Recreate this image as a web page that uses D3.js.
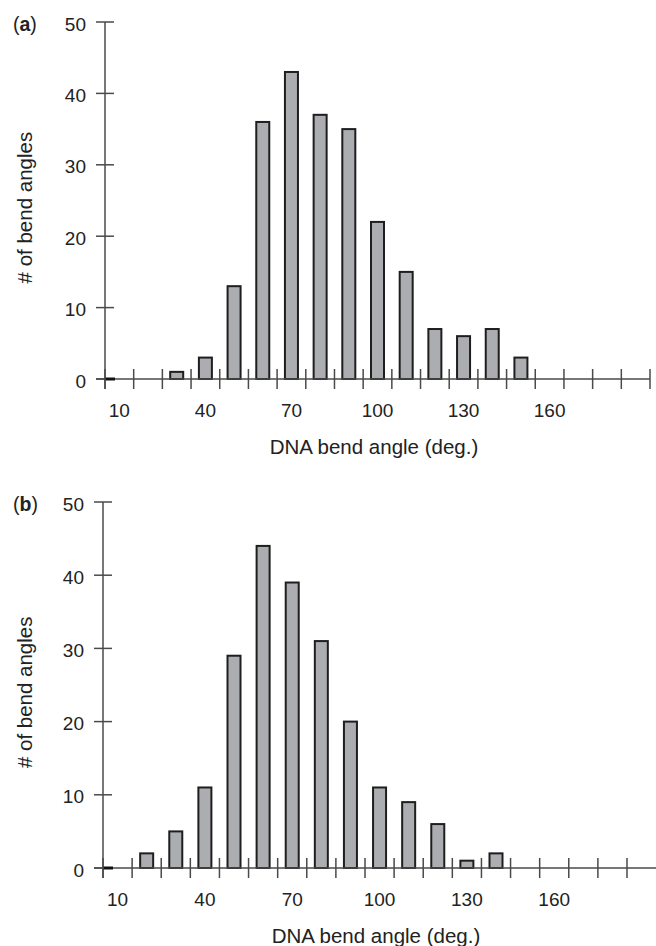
<!DOCTYPE html>
<html>
<head>
<meta charset="utf-8">
<script src="https://cdn.jsdelivr.net/npm/d3@7"></script>
<style>
  body { margin: 0; background: #fff; }
  svg text { font-family: "Liberation Sans", Arial, Helvetica, sans-serif; fill: #222; }
</style>
</head>
<body>
<div id="chart"></div>
<script>
// bin centres (deg.) and counts
var binsA = [30, 40, 50, 60, 70, 80, 90, 100, 110, 120, 130, 140, 150]
var countsA = [1, 3, 13, 36, 43, 37, 35, 22, 15, 7, 6, 7, 3]
var binsB = [20, 30, 40, 50, 60, 70, 80, 90, 100, 110, 120, 130, 140]
var countsB = [2, 5, 11, 29, 44, 39, 31, 20, 11, 9, 6, 1, 2]
var yTickValues = [0, 10, 20, 30, 40, 50]
var xLabelValues = [10, 40, 70, 100, 130, 160]
var panelNames = ["a", "b"]
var xTitle = "DNA bend angle (deg.)"
var yTitle = "# of bend angles"

var width = 656, height = 946;
var axisColor = "#4a4a4a";

var svg = d3.select("#chart").append("svg")
    .attr("width", width)
    .attr("height", height);

function pintaPanel(nombre, bins, counts, opts) {
    var x = d3.scaleLinear()
        .domain([5, opts.xMax])
        .range([opts.left, opts.right]);
    var y = d3.scaleLinear()
        .domain([0, 50])
        .range([opts.bottom, opts.top]);
    var datos = bins.map(function (b, i) { return { bin: b, n: counts[i] }; });
    var barW = 13;

    var g = svg.append("g");

    // bars
    g.selectAll("rect.bar")
        .data(datos)
        .enter().append("rect")
        .attr("class", "bar")
        .attr("x", function (d) { return x(d.bin) - barW / 2; })
        .attr("y", function (d) { return y(d.n); })
        .attr("width", barW)
        .attr("height", function (d) { return y(0) - y(d.n); })
        .attr("fill", "#acadb1")
        .attr("stroke", "#1e1e1e")
        .attr("stroke-width", 2);

    // y axis
    g.append("line")
        .attr("x1", x(5)).attr("x2", x(5))
        .attr("y1", y(50)).attr("y2", y(0) + 10)
        .attr("stroke", axisColor).attr("stroke-width", 1.5);

    g.selectAll("line.ytick")
        .data(yTickValues)
        .enter().append("line")
        .attr("class", "ytick")
        .attr("x1", x(5) - 9).attr("x2", x(5) + 9)
        .attr("y1", function (d) { return y(d); })
        .attr("y2", function (d) { return y(d); })
        .attr("stroke", axisColor).attr("stroke-width", 1.5);

    g.selectAll("text.ylab")
        .data(yTickValues)
        .enter().append("text")
        .attr("class", "ylab")
        .attr("x", x(5) - 19)
        .attr("y", function (d) { return y(d); })
        .attr("dy", "0.45em")
        .attr("text-anchor", "end")
        .style("font-size", "19px")
        .text(function (d) { return d; });

    // x axis
    g.append("line")
        .attr("x1", x(5) - 9).attr("x2", opts.axisEnd)
        .attr("y1", y(0)).attr("y2", y(0))
        .attr("stroke", axisColor).attr("stroke-width", 1.5);

    g.append("line")
        .attr("x1", x(5)).attr("x2", x(5) + 10)
        .attr("y1", y(0)).attr("y2", y(0))
        .attr("stroke", "#111").attr("stroke-width", 3);

    g.selectAll("line.xtick")
        .data(d3.range(5, opts.xMax + 1, 10))
        .enter().append("line")
        .attr("class", "xtick")
        .attr("x1", function (d) { return x(d); })
        .attr("x2", function (d) { return x(d); })
        .attr("y1", y(0) - 10).attr("y2", y(0) + 10)
        .attr("stroke", axisColor).attr("stroke-width", 1.5);

    g.selectAll("text.xlab")
        .data(xLabelValues)
        .enter().append("text")
        .attr("class", "xlab")
        .attr("x", function (d) { return x(d); })
        .attr("y", y(0) + 38)
        .attr("text-anchor", "middle")
        .style("font-size", "19px")
        .text(function (d) { return d; });

    // titles
    g.append("text")
        .attr("x", opts.titleX)
        .attr("y", y(0) + 75)
        .attr("text-anchor", "middle")
        .style("font-size", "20.5px")
        .text(xTitle);

    g.append("text")
        .attr("transform", "translate(32," + y(24) + ") rotate(-90)")
        .attr("text-anchor", "middle")
        .style("font-size", "20.5px")
        .text(yTitle);

    var lab = g.append("text")
        .attr("x", 13)
        .attr("y", y(50))
        .attr("dy", "0.45em")
        .style("font-size", "19.5px");
    lab.append("tspan").text("(");
    lab.append("tspan").style("font-weight", "bold").text(nombre);
    lab.append("tspan").text(")");
}

pintaPanel(panelNames[0], binsA, countsA, { xMax: 195, left: 105, right: 650, axisEnd: 650, top: 22, bottom: 379, titleX: 374 });
pintaPanel(panelNames[1], binsB, countsB, { xMax: 185, left: 103, right: 627, axisEnd: 656, top: 502, bottom: 868, titleX: 376 });
</script>
</body>
</html>
